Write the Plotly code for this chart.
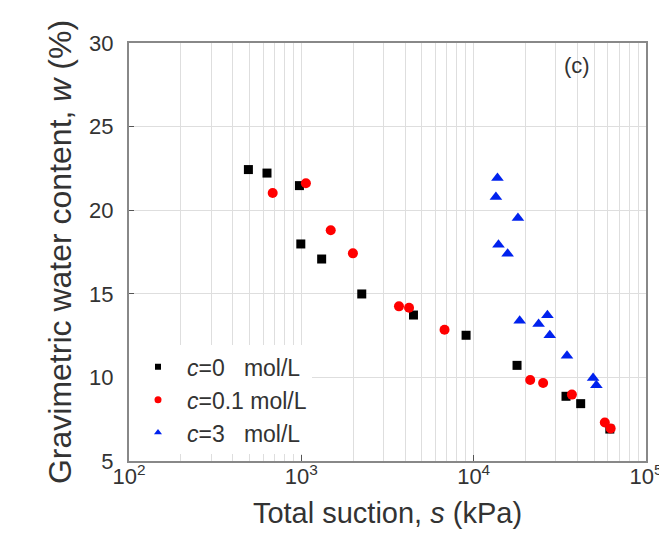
import plotly.graph_objects as go

# Data
s_c0 = [493, 632, 975, 993, 1312, 2242, 4474, 9036, 17850, 34340, 41780, 61660]
w_c0 = [22.43, 22.22, 21.47, 17.98, 17.08, 14.99, 13.73, 12.52, 10.72, 8.87, 8.43, 6.91]

s_c01 = [682, 1063, 1481, 1992, 3686, 4217, 6776, 21280, 25290, 37150, 57680, 62370]
w_c01 = [21.03, 21.61, 18.80, 17.42, 14.25, 14.17, 12.85, 9.84, 9.67, 8.97, 7.30, 6.94]

s_c3 = [13740, 13460, 18070, 13930, 15740, 18490, 23810, 26790, 27640, 34800, 49320, 51530]
w_c3 = [21.93, 20.79, 19.53, 17.94, 17.40, 13.39, 13.19, 13.71, 12.52, 11.30, 9.96, 9.53]

x_tickvals = [100, 1000, 10000, 100000]
x_ticktext = ["10<sup>2</sup>", "10<sup>3</sup>", "10<sup>4</sup>", "10<sup>5</sup>"]
y_tickvals = [5, 10, 15, 20, 25, 30]

NB = "\u00a0"
names = [
    f"<i>c</i>=0{NB*3}mol/L",
    f"<i>c</i>=0.1{NB}mol/L",
    f"<i>c</i>=3{NB*3}mol/L",
]
series = [
    (s_c0, w_c0, "square", 9, "black"),
    (s_c01, w_c01, "circle", 10, "#ff0000"),
    (s_c3, w_c3, "triangle-up", 11, "#0022ee"),
]
legend_sizes = [6, 7, 7]

fig = go.Figure()
for (sx, wy, sym, sz, col), nm in zip(series, names):
    fig.add_trace(go.Scatter(x=sx, y=wy, mode="markers", name=nm, showlegend=False,
                             marker=dict(symbol=sym, size=sz, color=col)))
# legend entries with the small symbols of the reference
for (sx, wy, sym, sz, col), nm, lsz in zip(series, names, legend_sizes):
    fig.add_trace(go.Scatter(x=[None], y=[None], mode="markers", name=nm,
                             marker=dict(symbol=sym, size=lsz, color=col)))

font_family = "Liberation Sans, Arial, sans-serif"
TXT = "#333333"

fig.update_layout(
    width=667, height=539,
    margin=dict(l=121, r=18, t=35, b=86),
    paper_bgcolor="white", plot_bgcolor="white",
    font=dict(family=font_family, color=TXT),
    showlegend=True,
    legend=dict(x=0.0, y=0.016, xanchor="left", yanchor="bottom",
                bgcolor="white", borderwidth=0,
                font=dict(size=23, color=TXT),
                itemsizing="trace", itemwidth=48, tracegroupgap=0,
                traceorder="normal"),
    annotations=[dict(text="(c)", x=0.866, y=0.947, xref="paper", yref="paper",
                      xanchor="center", yanchor="middle",
                      showarrow=False, font=dict(size=22, color=TXT))],
)

fig.update_xaxes(
    type="log", range=[2, 5],
    tickvals=x_tickvals, ticktext=x_ticktext,
    tickfont=dict(size=22, color=TXT),
    ticklabelstandoff=-5,
    title=dict(text="Total suction, <i>s</i> (kPa)", font=dict(size=29, color=TXT), standoff=14),
    showline=True, linecolor="#888888", linewidth=2, mirror=True,
    ticks="inside", ticklen=6, tickcolor="#555555",
    showgrid=True, gridcolor="#dedede", gridwidth=1,
    minor=dict(showgrid=True, gridcolor="#dedede", gridwidth=1,
               dtick="D1", ticks=""),
    zeroline=False,
)
fig.update_yaxes(
    range=[5, 30], tickvals=y_tickvals,
    tickfont=dict(size=22, color=TXT),
    ticklabelstandoff=9,
    title=dict(text="Gravimetric water content, <i>w</i> (%)", font=dict(size=32, color=TXT), standoff=8),
    showline=True, linecolor="#888888", linewidth=2, mirror=True,
    ticks="inside", ticklen=5, tickcolor="#555555",
    showgrid=True, gridcolor="#dedede", gridwidth=1,
    zeroline=False,
)

fig.write_html("out.html")
